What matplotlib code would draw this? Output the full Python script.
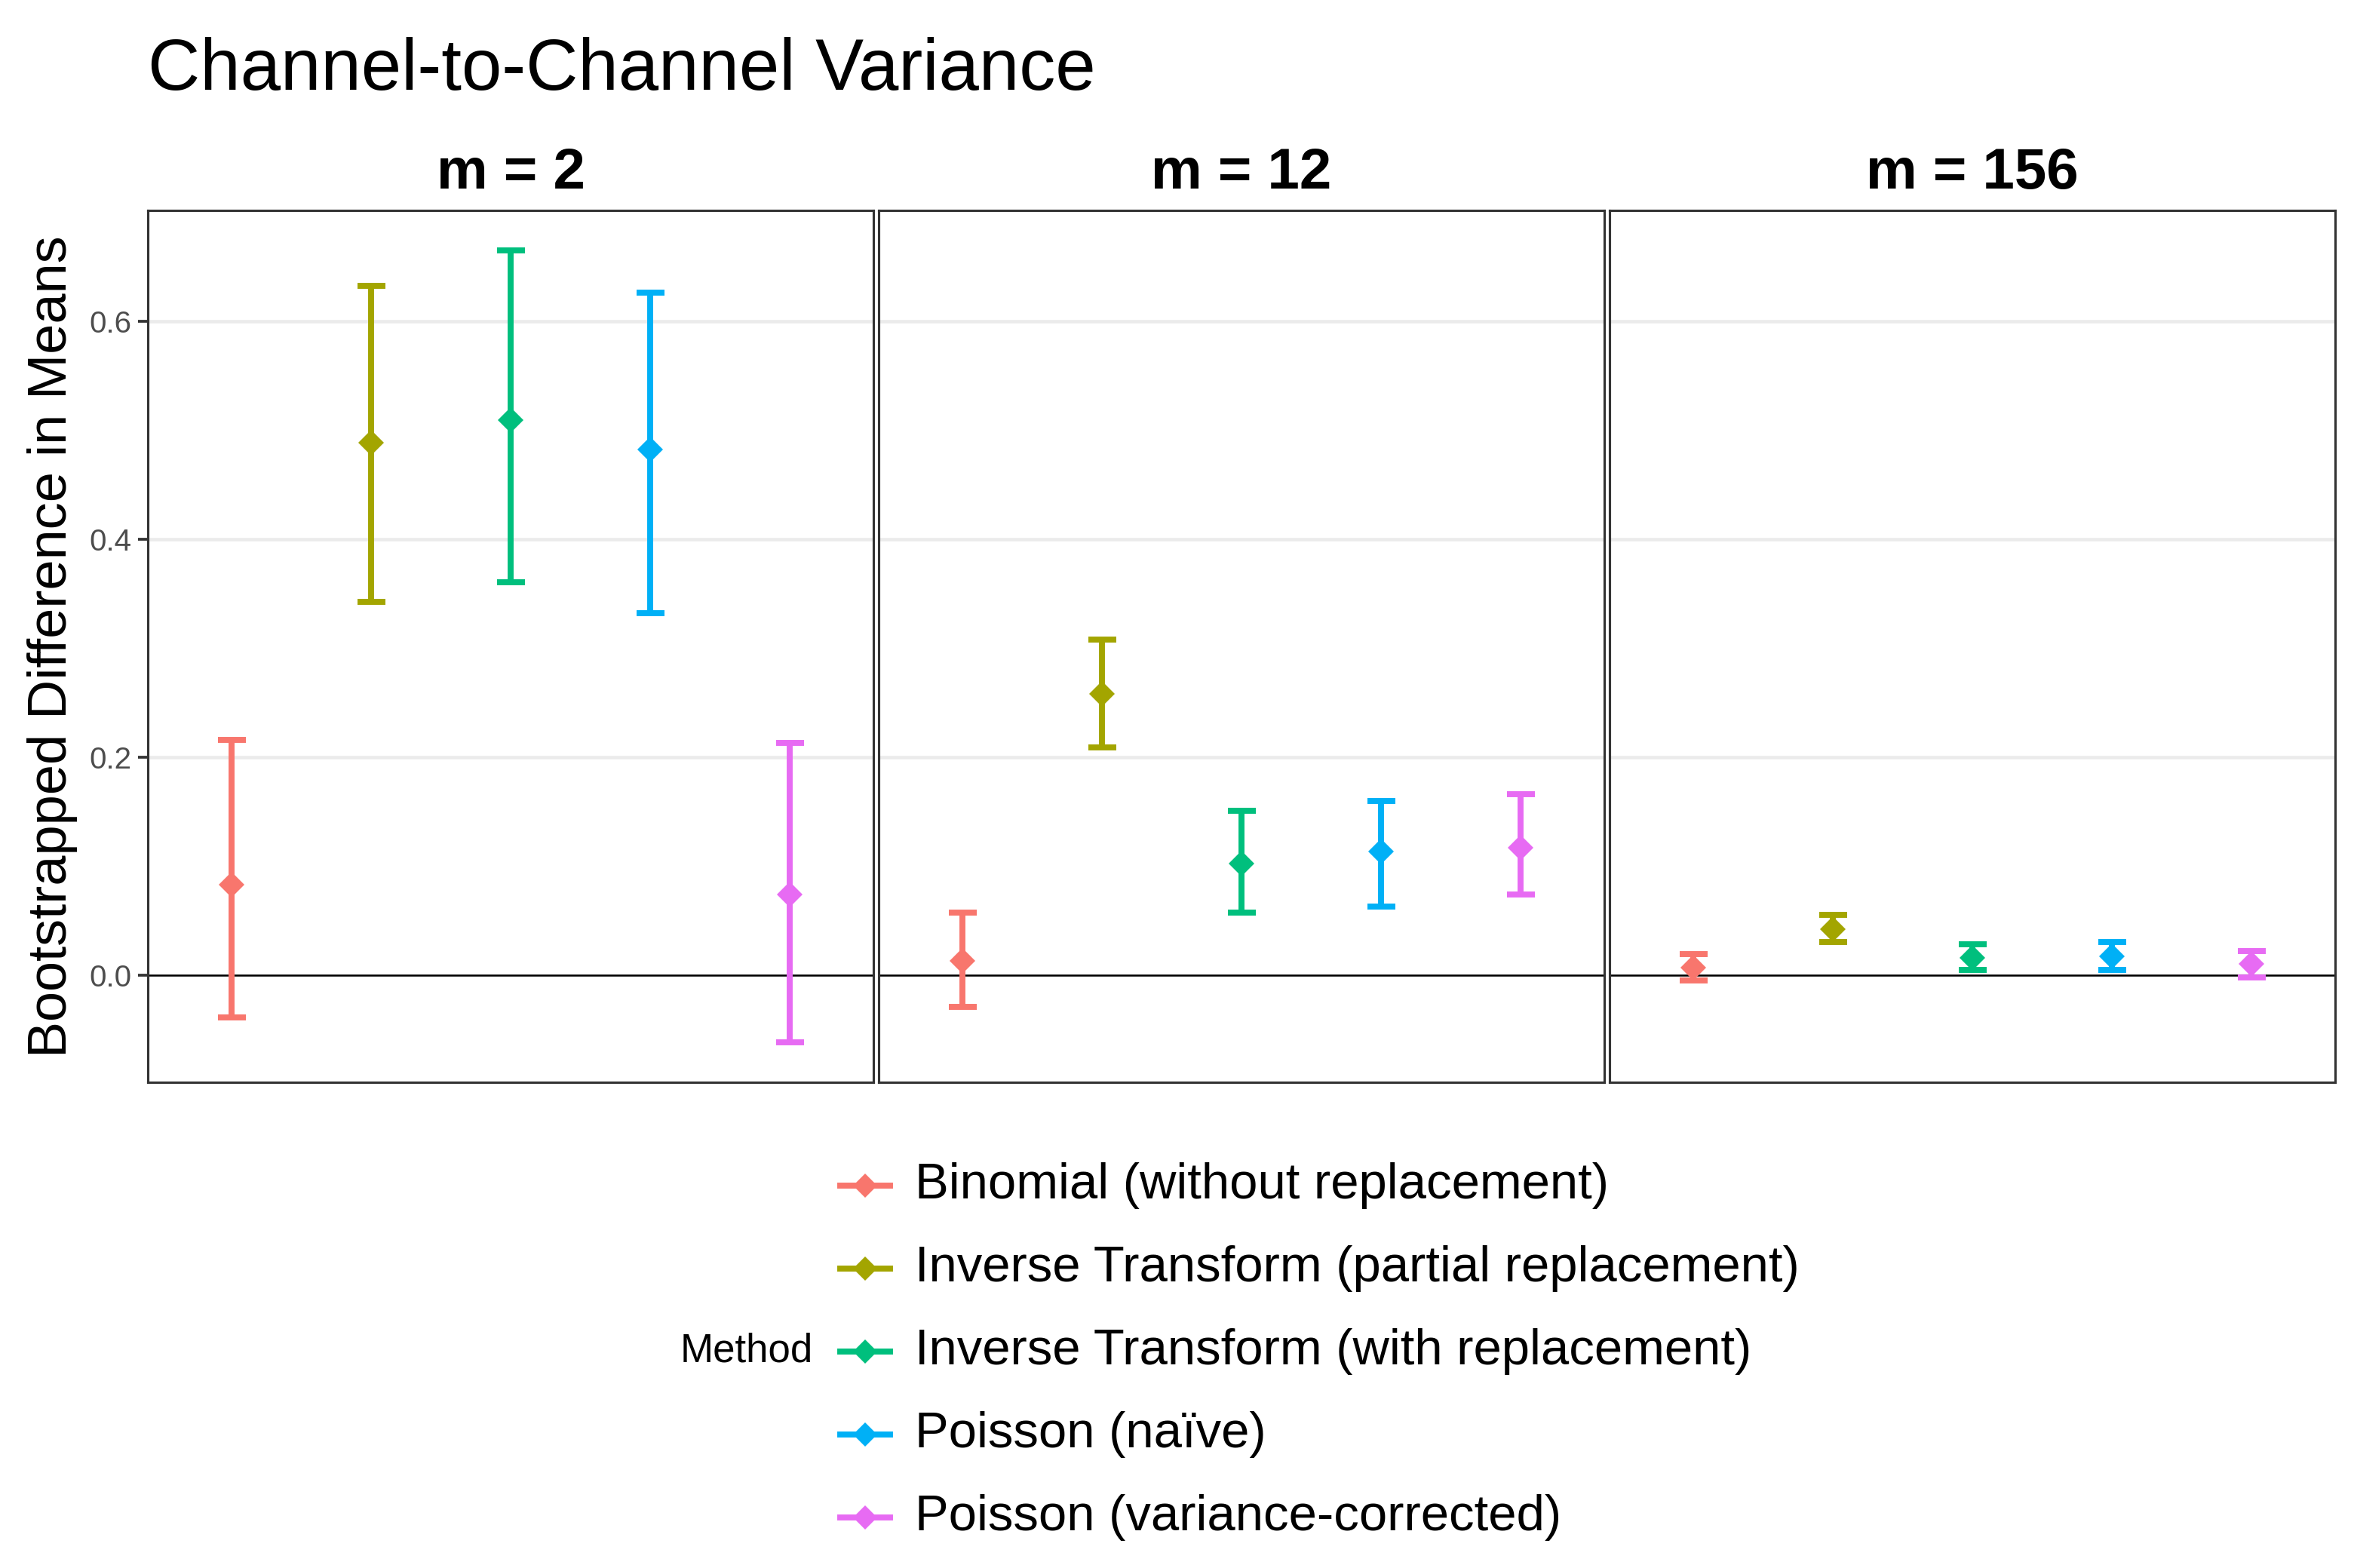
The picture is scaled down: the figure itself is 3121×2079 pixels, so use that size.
import numpy as np
import matplotlib
matplotlib.use("Agg")
import matplotlib.pyplot as plt
from matplotlib.lines import Line2D

plt.rcParams['font.family'] = ['Liberation Sans', 'DejaVu Sans']

# data
methods = [
    "Binomial (without replacement)",
    "Inverse Transform (partial replacement)",
    "Inverse Transform (with replacement)",
    "Poisson (na\u00efve)",
    "Poisson (variance-corrected)",
]
facets = ["m = 2", "m = 12", "m = 156"]
colors = ["#F8766D", "#A3A500", "#00BF7D", "#00B0F6", "#E76BF3"]

means = [
    [0.083, 0.488, 0.509, 0.482, 0.074],
    [0.013, 0.258, 0.102, 0.113, 0.117],
    [0.007, 0.042, 0.016, 0.017, 0.010],
]
lower = [
    [-0.039, 0.342, 0.360, 0.332, -0.062],
    [-0.029, 0.209, 0.057, 0.063, 0.074],
    [-0.005, 0.030, 0.005, 0.005, -0.002],
]
upper = [
    [0.216, 0.632, 0.665, 0.626, 0.213],
    [0.057, 0.308, 0.151, 0.160, 0.166],
    [0.019, 0.055, 0.028, 0.030, 0.022],
]
yticks = [0.0, 0.2, 0.4, 0.6]

W, H = 3121, 2079
fig = plt.figure(figsize=(W / 300, H / 300), dpi=300)

panel_left = [196, 1165, 2134]
panel_w = 962
panel_top, panel_bot = 279, 1435

# shared y range, ggplot-style 5% expansion
lo = min(min(r) for r in lower)
hi = max(max(r) for r in upper)
pad = 0.05 * (hi - lo)

for k, name in enumerate(facets):
    ax = fig.add_axes([panel_left[k] / W, 1 - panel_bot / H,
                       panel_w / W, (panel_bot - panel_top) / H])
    x = np.arange(1, len(methods) + 1)
    for yt in yticks:
        ax.axhline(yt, color="#EBEBEB", lw=1.1, zorder=0)
    ax.axhline(0, color="black", lw=0.6, zorder=1)
    for i in range(len(methods)):
        m = means[k][i]
        err = [[m - lower[k][i]], [upper[k][i] - m]]
        ax.errorbar(x[i], m, yerr=err, fmt="none", ecolor=colors[i],
                    elinewidth=1.9, capsize=0, zorder=2)
        # caps drawn as hlines so width follows data units (ggplot width=0.2)
        ax.hlines([lower[k][i], upper[k][i]], x[i] - 0.1, x[i] + 0.1,
                  colors=colors[i], lw=1.9, zorder=2)
        ax.plot(x[i], m, marker="D", ms=5.8, color=colors[i], mec="none", zorder=3)
    ax.set_xlim(0.4, len(methods) + 0.6)
    ax.set_ylim(lo - pad, hi + pad)
    ax.set_xticks([])
    ax.set_yticks(yticks)
    if k == 0:
        ax.set_yticklabels([f"{v:.1f}" for v in yticks])
        ax.tick_params(axis="y", length=3.2, width=0.9, color="#333333",
                       labelsize=9.7, labelcolor="#4D4D4D", pad=2)
    else:
        ax.tick_params(axis="y", length=0, labelleft=False)
    for s in ax.spines.values():
        s.set_color("#333333")
        s.set_linewidth(0.75)
    ax.set_title(name, fontsize=18.3, fontweight="bold", pad=7)

fig.text(196 / W, 1 - 94 / H, "Channel-to-Channel Variance",
         fontsize=23, ha="left", va="center")
fig.text(70 / W, 1 - (panel_top + panel_bot) / 2 / H,
         "Bootstrapped Difference in Means", fontsize=17.3,
         rotation=90, ha="center", va="center")

# legend, title on the left as in ggplot
row0, step = 1572, 110
for i, lab in enumerate(methods):
    yy = 1 - (row0 + step * i) / H
    fig.add_artist(Line2D([1114 / W, 1180 / W], [yy, yy], transform=fig.transFigure,
                          color=colors[i], lw=1.9, marker="None"))
    fig.add_artist(Line2D([1147 / W], [yy], transform=fig.transFigure,
                          color=colors[i], marker="D", ms=5.4, mec="none", ls="none"))
    fig.text(1213 / W, yy, lab, fontsize=16.1, ha="left", va="center")
fig.text(1078 / W, 1 - (row0 + step * 2) / H, "Method", fontsize=12.7,
         ha="right", va="center")

fig.savefig("out.png", dpi=300)
